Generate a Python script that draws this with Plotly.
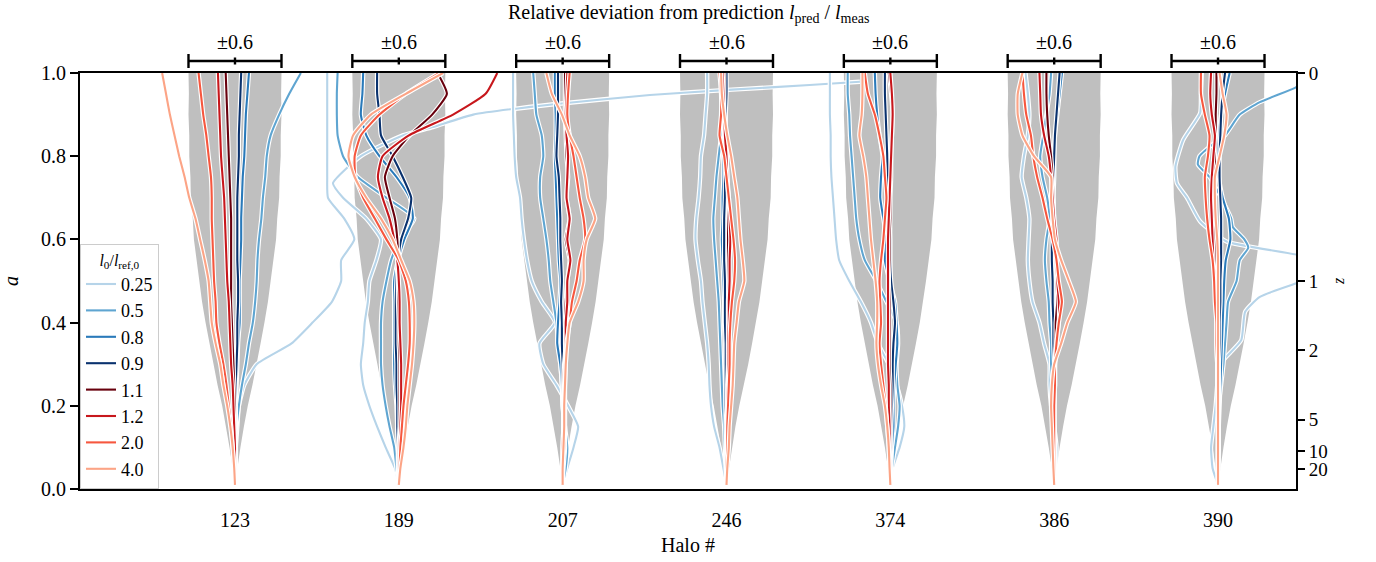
import plotly.graph_objects as go

FONT = "Liberation Serif, Times New Roman, serif"

HALOS = ["123", "189", "207", "246", "374", "386", "390"]
RATIOS = ["0.25", "0.5", "0.8", "0.9", "1.1", "1.2", "2.0", "4.0"]
COLORS = ["#b6d4e9", "#5fa5d1", "#2a7aba", "#0a326e",
          "#68000d", "#c7171c", "#f6573f", "#fca486"]

A_GRID = [0.01, 0.05, 0.10, 0.15, 0.20, 0.25, 0.30, 0.35, 0.40, 0.45, 0.50,
          0.55, 0.60, 0.65, 0.70, 0.75, 0.80, 0.85, 0.90, 0.95, 1.00]

# half width of the grey band (relative deviation) on A_GRID
CONE_HALF = [0.0, 0.03, 0.07, 0.115, 0.165, 0.225, 0.28, 0.33, 0.38, 0.425, 0.46,
             0.495, 0.53, 0.545, 0.57, 0.575, 0.59, 0.59, 0.60, 0.595, 0.60]

DEV_123 = {
    "0.25": [0, 0, 0.01, 0.03, 0.05, 0.12, 0.28, 0.73, 1.0, 1.25, 1.37, 1.37, 1.54, 1.41, 1.2, 1.19, 1.19, 1.19, 1.19, 1.19, 1.19],
    "0.5": [0, 0.01, 0.01, 0.02, 0.05, 0.09, 0.14, 0.18, 0.23, 0.26, 0.28, 0.29, 0.31, 0.34, 0.36, 0.39, 0.41, 0.46, 0.57, 0.70, 0.85],
    "0.8": [0, 0, 0, 0.01, 0.01, 0.02, 0.03, 0.04, 0.06, 0.06, 0.06, 0.07, 0.08, 0.08, 0.09, 0.10, 0.12, 0.13, 0.14, 0.16, 0.18],
    "0.9": [0, 0, 0, 0.01, 0.01, 0.01, 0.02, 0.03, 0.03, 0.04, 0.04, 0.03, 0.03, 0.03, 0.03, 0.04, 0.05, 0.05, 0.06, 0.07, 0.08],
    "1.1": [0, 0, 0, 0, 0, -0.01, -0.02, -0.03, -0.04, -0.05, -0.05, -0.05, -0.05, -0.05, -0.06, -0.07, -0.08, -0.09, -0.10, -0.11, -0.12],
    "1.2": [0, 0, 0, -0.01, -0.02, -0.03, -0.05, -0.06, -0.07, -0.08, -0.10, -0.11, -0.12, -0.13, -0.14, -0.16, -0.18, -0.19, -0.20, -0.21, -0.22],
    "2.0": [0, -0.01, -0.03, -0.05, -0.08, -0.11, -0.15, -0.20, -0.24, -0.25, -0.27, -0.28, -0.29, -0.30, -0.30, -0.31, -0.34, -0.37, -0.41, -0.44, -0.47],
    "4.0": [0, -0.01, -0.03, -0.06, -0.10, -0.15, -0.19, -0.25, -0.30, -0.32, -0.34, -0.39, -0.45, -0.51, -0.59, -0.65, -0.72, -0.78, -0.84, -0.89, -0.94],
}

DEV_189 = {
    "0.25": [0, -0.05, -0.17, -0.28, -0.38, -0.46, -0.49, -0.46, -0.44, -0.40, -0.38, -0.29, -0.23, -0.42, -0.72, -0.85, -0.49, 0.05, 0.44, 0.96, 2.0, 3.24, 4.3, 5.3, 5.95],
    "0.5": [0, -0.03, -0.06, -0.12, -0.17, -0.21, -0.23, -0.23, -0.23, -0.21, -0.16, -0.10, 0.01, 0.20, -0.16, -0.53, -0.72, -0.79, -0.80, -0.80, -0.79],
    "0.8": [0, -0.01, -0.01, -0.02, -0.03, -0.05, -0.06, -0.06, -0.06, -0.06, -0.06, -0.01, 0.07, 0.18, 0.14, -0.03, -0.25, -0.42, -0.49, -0.47, -0.46],
    "0.9": [0, -0.01, -0.01, -0.02, -0.02, -0.03, -0.03, -0.04, -0.04, -0.04, -0.03, -0.01, 0.03, 0.12, 0.16, 0.05, -0.08, -0.23, -0.25, -0.28, -0.28],
    "1.1": [0, 0, 0, 0.01, 0.01, 0.01, 0.01, 0, 0, -0.01, -0.01, -0.01, -0.02, -0.05, -0.12, -0.18, -0.08, 0.14, 0.43, 0.62, 0.50],
    "1.2": [0, 0.01, 0.01, 0.02, 0.03, 0.03, 0.03, 0.02, 0.01, 0.01, 0, -0.02, -0.06, -0.12, -0.21, -0.27, -0.21, 0.13, 0.70, 1.12, 1.27],
    "2.0": [0, 0.01, 0.02, 0.04, 0.06, 0.09, 0.12, 0.14, 0.14, 0.13, 0.09, 0, -0.16, -0.31, -0.46, -0.56, -0.57, -0.49, -0.25, 0.09, 0.52],
    "4.0": [0, 0.02, 0.06, 0.09, 0.11, 0.14, 0.17, 0.19, 0.20, 0.19, 0.14, 0.03, -0.08, -0.23, -0.42, -0.57, -0.65, -0.59, -0.36, 0.09, 0.57],
}

DEV_207 = {
    "0.25": [0, 0.06, 0.14, 0.20, 0.07, -0.08, -0.25, -0.30, -0.10, -0.27, -0.40, -0.46, -0.50, -0.53, -0.55, -0.60, -0.62, -0.63, -0.64, -0.64, -0.64],
    "0.5": [0, 0.04, 0.06, 0.03, 0, -0.01, -0.03, -0.06, -0.08, -0.12, -0.16, -0.18, -0.21, -0.25, -0.29, -0.29, -0.25, -0.27, -0.34, -0.36, -0.38],
    "0.8": [0, 0.01, 0.03, 0.02, 0, -0.01, -0.03, -0.07, -0.06, -0.04, -0.03, -0.05, -0.06, -0.07, -0.08, -0.09, -0.10, -0.09, -0.09, -0.10, -0.10],
    "0.9": [0, 0, 0.01, 0.01, 0.01, 0, 0, -0.01, -0.01, -0.02, -0.01, -0.02, -0.03, -0.03, -0.04, -0.05, -0.08, -0.07, -0.06, -0.06, -0.06],
    "1.1": [0, 0, 0, 0.01, 0.01, 0.01, 0.02, 0.04, 0.03, 0.04, 0.06, 0.09, 0.04, 0.09, 0.05, 0.07, 0.05, 0.04, 0.03, 0.03, 0.03],
    "1.2": [0, 0, 0, 0.01, 0.02, 0.02, 0.03, 0.04, 0.04, 0.06, 0.06, 0.10, 0.06, 0.09, 0.05, 0.06, 0.07, 0.05, 0.04, 0.05, 0.06],
    "2.0": [0, 0, 0.02, 0.03, 0.03, 0.03, 0.04, 0.05, 0.09, 0.12, 0.18, 0.22, 0.29, 0.27, 0.22, 0.18, 0.14, 0.09, 0.06, 0.07, 0.09],
    "4.0": [0, 0, 0.01, 0.02, 0.02, 0.03, 0.04, 0.06, 0.09, 0.20, 0.27, 0.27, 0.31, 0.42, 0.33, 0.29, 0.22, 0.09, -0.01, -0.14, -0.21],
}

DEV_246 = {
    "0.25": [0, -0.04, -0.09, -0.16, -0.20, -0.22, -0.23, -0.25, -0.28, -0.31, -0.33, -0.37, -0.40, -0.39, -0.36, -0.34, -0.33, -0.29, -0.27, -0.25, -0.25],
    "0.5": [0, -0.01, -0.02, -0.03, -0.05, -0.06, -0.07, -0.08, -0.09, -0.10, -0.12, -0.14, -0.16, -0.17, -0.15, -0.13, -0.10, -0.07, -0.05, -0.04, -0.03],
    "0.8": [0, 0, 0, -0.01, -0.01, -0.01, -0.02, -0.02, -0.03, -0.03, -0.04, -0.05, -0.06, -0.05, -0.05, -0.04, -0.04, -0.03, -0.03, -0.02, -0.02],
    "0.9": [0, 0, 0, 0, -0.01, -0.01, -0.01, -0.01, -0.02, -0.02, -0.02, -0.03, -0.03, -0.03, -0.02, -0.02, -0.02, -0.01, -0.01, 0, 0],
    "1.1": [0, 0, 0, 0.01, 0.01, 0.01, 0.02, 0.02, 0.02, 0.02, 0.03, 0.02, 0.02, 0.02, 0.02, 0.01, 0, -0.01, -0.03, -0.03, -0.03],
    "1.2": [0, 0, 0.01, 0.01, 0.01, 0.02, 0.02, 0.02, 0.03, 0.03, 0.04, 0.04, 0.05, 0.04, 0.03, 0.01, 0, -0.02, -0.03, -0.04, -0.05],
    "2.0": [0, 0, 0.01, 0.01, 0.02, 0.03, 0.04, 0.04, 0.05, 0.07, 0.10, 0.11, 0.09, 0.06, 0.03, 0, -0.03, -0.09, -0.07, -0.07, -0.09],
    "4.0": [0, 0.01, 0.03, 0.04, 0.06, 0.08, 0.09, 0.10, 0.13, 0.16, 0.23, 0.21, 0.18, 0.16, 0.14, 0.10, 0.06, 0.01, -0.03, -0.06, -0.07],
}

DEV_374 = {
    "0.25": [0, 0.03, 0.12, 0.18, 0.15, 0.08, -0.02, -0.16, -0.25, -0.38, -0.53, -0.66, -0.70, -0.72, -0.74, -0.76, -0.77, -0.77, -0.78, -0.78, -0.78],
    "0.5": [0, 0.02, 0.06, 0.10, 0.12, 0.09, 0.08, 0.10, 0.08, -0.05, -0.18, -0.33, -0.40, -0.44, -0.46, -0.48, -0.50, -0.52, -0.53, -0.55, -0.55],
    "0.8": [0, 0.01, 0.02, 0.04, 0.04, 0.05, 0.07, 0.09, 0.08, 0.06, -0.01, -0.07, -0.05, -0.09, -0.13, -0.12, -0.10, -0.14, -0.17, -0.19, -0.20],
    "0.9": [0, 0, 0.01, 0.01, 0.02, 0.03, 0.03, 0.04, 0.06, 0.04, 0.01, 0, 0, -0.01, -0.03, -0.03, -0.04, -0.05, -0.06, -0.07, -0.07],
    "1.1": [0, 0, 0, 0, 0, 0, -0.01, -0.01, -0.01, -0.01, -0.02, -0.01, -0.01, 0, 0, 0.01, 0.01, 0.02, 0.03, 0.01, -0.02],
    "1.2": [0, 0, -0.01, -0.01, -0.02, -0.02, -0.03, -0.03, -0.03, -0.03, -0.03, -0.03, -0.03, -0.02, -0.01, 0, 0.01, 0.02, 0.03, 0.02, 0],
    "2.0": [0, -0.01, -0.02, -0.04, -0.06, -0.09, -0.12, -0.14, -0.12, -0.13, -0.14, -0.12, -0.09, -0.07, -0.05, -0.07, -0.09, -0.14, -0.20, -0.29, -0.33],
    "4.0": [0, -0.01, -0.02, -0.04, -0.07, -0.12, -0.16, -0.18, -0.17, -0.17, -0.19, -0.22, -0.25, -0.27, -0.29, -0.31, -0.35, -0.40, -0.37, -0.36, -0.36],
}

DEV_386 = {
    "0.25": [0, 0.02, 0.03, 0, -0.04, -0.06, -0.06, -0.13, -0.19, -0.28, -0.32, -0.34, -0.33, -0.32, -0.36, -0.42, -0.39, -0.34, -0.32, -0.34, -0.37],
    "0.5": [0, 0.01, 0.01, 0, -0.01, -0.02, -0.04, -0.04, -0.06, -0.07, -0.10, -0.12, -0.10, -0.06, -0.09, -0.15, -0.18, -0.14, -0.10, -0.06, -0.04],
    "0.8": [0, 0, 0, 0, 0, 0, 0, 0, 0, -0.01, -0.01, -0.02, -0.02, -0.01, -0.01, 0, 0, 0.01, 0.04, 0.07, 0.10],
    "0.9": [0, 0, 0, 0, 0, 0, 0, -0.01, -0.01, -0.02, -0.02, -0.03, -0.03, -0.02, -0.02, -0.01, 0, 0.01, 0.03, 0.05, 0.07],
    "1.1": [0, 0, 0, 0, 0, 0.01, 0.01, 0.02, 0.02, 0.04, 0.03, 0.02, 0.01, 0, -0.01, -0.02, -0.04, -0.07, -0.09, -0.10, -0.10],
    "1.2": [0, 0, 0, 0, 0, 0.01, 0.01, 0.03, 0.06, 0.06, 0.04, 0.03, 0.03, 0, -0.02, -0.04, -0.07, -0.13, -0.17, -0.18, -0.19],
    "2.0": [0, 0, 0, 0, 0, 0.01, 0.01, 0.03, 0.06, 0.10, 0.06, 0.03, -0.02, -0.09, -0.15, -0.22, -0.27, -0.30, -0.36, -0.39, -0.41],
    "4.0": [0, -0.01, -0.02, -0.03, -0.04, -0.03, 0, 0.09, 0.17, 0.28, 0.19, 0.09, 0.01, -0.02, -0.04, -0.04, -0.26, -0.41, -0.47, -0.47, -0.41],
}

DEV_390 = {
    "0.25": [0, -0.07, -0.09, -0.06, -0.03, -0.01, 0, 0.07, 0.30, 0.35, 0.54, 1.02, 1.60, 1.02, 0.11, -0.23, -0.40, -0.53, -0.55, -0.45, -0.23, -0.22, -0.21],
    "0.5": [0, 0.01, 0.01, 0.04, 0.07, 0.09, 0.11, 0.13, 0.24, 0.28, 0.39, 0.34, 0.19, 0.17, 0.04, -0.11, -0.26, -0.24, -0.06, 0.09, 0.28, 0.54, 1.0, 1.3],
    "0.8": [0, 0, 0.01, 0.01, 0.02, 0.03, 0.04, 0.05, 0.06, 0.07, 0.08, 0.10, 0.16, 0.14, 0.06, 0.01, -0.01, 0.01, 0.04, 0.09, 0.15],
    "0.9": [0, 0, 0, 0.01, 0.01, 0.01, 0.01, 0.02, 0.02, 0.03, 0.03, 0.04, 0.04, 0.04, 0.03, 0.02, 0.02, 0.03, 0.04, 0.06, 0.09],
    "1.1": [0, 0, 0, 0, 0, 0, 0, -0.01, -0.01, -0.02, -0.03, -0.03, -0.04, -0.05, -0.05, -0.04, -0.04, -0.03, -0.03, -0.02, -0.02],
    "1.2": [0, 0, 0, 0, 0, 0, -0.01, -0.02, -0.02, -0.03, -0.04, -0.06, -0.07, -0.08, -0.09, -0.08, -0.06, -0.04, -0.08, -0.10, -0.09],
    "2.0": [0, 0, 0, 0, 0, -0.01, -0.01, -0.02, -0.02, -0.04, -0.05, -0.07, -0.11, -0.14, -0.16, -0.17, -0.13, -0.11, -0.17, -0.22, -0.22],
    "4.0": [0, 0, 0, 0, 0, 0, 0, 0, 0, 0, 0, 0, -0.01, -0.03, -0.04, -0.04, 0.02, 0.08, 0.11, 0.06, 0.02],
}

# lines sampled on their own scale-factor grid
CUSTOM_A = {
    ("189", "0.25"): [0.01, 0.05, 0.10, 0.15, 0.20, 0.25, 0.30, 0.35, 0.40, 0.45, 0.50, 0.55, 0.60,
                      0.65, 0.70, 0.735, 0.80, 0.85, 0.87, 0.90, 0.925, 0.947, 0.96, 0.971, 0.979],
    ("390", "0.25"): [0.01, 0.05, 0.10, 0.15, 0.20, 0.25, 0.28, 0.31, 0.358, 0.426, 0.462, 0.495,
                      0.53, 0.563, 0.595, 0.643, 0.70, 0.735, 0.775, 0.839, 0.904, 0.95, 1.0],
    ("390", "0.5"): [0.01, 0.10, 0.20, 0.25, 0.30, 0.35, 0.40, 0.45, 0.50, 0.55, 0.58, 0.60, 0.63,
                     0.65, 0.70, 0.75, 0.78, 0.80, 0.83, 0.85, 0.90, 0.93, 0.965, 1.0],
}

DEVS = {"123": DEV_123, "189": DEV_189, "207": DEV_207, "246": DEV_246,
        "374": DEV_374, "386": DEV_386, "390": DEV_390}

Z_TICKS = [0, 1, 2, 5, 10, 20]
BAR_DEV = 0.6
SCALE = 0.473          # x-axis units per unit of relative deviation
X_RANGE = [-0.946, 6.476]

fig = go.Figure()

# grey bands
for i, h in enumerate(HALOS):
    xs = [i + w * SCALE for w in CONE_HALF] + [i - w * SCALE for w in CONE_HALF[::-1]]
    ys = A_GRID + A_GRID[::-1]
    fig.add_trace(go.Scatter(x=xs, y=ys, mode="lines", fill="toself",
                             fillcolor="#bfbfbf", line=dict(width=0, color="#bfbfbf"),
                             hoverinfo="skip", showlegend=False))

# deviation tracks
for i, h in enumerate(HALOS):
    for r, c in zip(RATIOS, COLORS):
        a = CUSTOM_A.get((h, r), A_GRID)
        d = DEVS[h][r]
        xs = [i + v * SCALE for v in d]
        fig.add_trace(go.Scatter(x=xs, y=a, mode="lines",
                                 line=dict(color="white", width=4.4, shape="spline", smoothing=0.5),
                                 hoverinfo="skip", showlegend=False))
        fig.add_trace(go.Scatter(x=xs, y=a, mode="lines", name=r, legendgroup=r,
                                 line=dict(color=c, width=2.1, shape="spline", smoothing=0.5),
                                 hoverinfo="skip", showlegend=(i == 0)))

# dummy trace for the right (z) axis
fig.add_trace(go.Scatter(x=[None], y=[None], yaxis="y2", showlegend=False, hoverinfo="skip"))

# scale bars on top
PH = 416.0
shapes = []
annotations = []
y_bar = 12 / PH + 1
for i, h in enumerate(HALOS):
    x0, x1 = i - BAR_DEV * SCALE, i + BAR_DEV * SCALE
    ln = dict(color="black", width=2.4)
    shapes.append(dict(type="line", xref="x", yref="paper", x0=x0, x1=x1, y0=y_bar, y1=y_bar, line=ln))
    for xx in (x0, x1):
        shapes.append(dict(type="line", xref="x", yref="paper", x0=xx, x1=xx,
                           y0=y_bar - 7 / PH, y1=y_bar + 7 / PH, line=ln))
    shapes.append(dict(type="line", xref="x", yref="paper", x0=i, x1=i,
                       y0=y_bar - 3.5 / PH, y1=y_bar + 3.5 / PH, line=ln))
    annotations.append(dict(x=i, y=1 + 31 / PH, xref="x", yref="paper", yanchor="middle",
                            xanchor="center", text="\u00b1" + "0.6", showarrow=False,
                            font=dict(size=20, family=FONT, color="black")))

annotations.append(dict(x=0.5, y=1 + 60 / PH, xref="paper", yref="paper", showarrow=False,
                        yanchor="middle", xanchor="center",
                        text="Relative deviation from prediction <i>l</i><sub>pred</sub> / <i>l</i><sub>meas</sub>",
                        font=dict(size=20, family=FONT, color="black")))

fig.update_layout(
    width=1376, height=562,
    margin=dict(l=80, r=80, t=73, b=73, autoexpand=False),
    paper_bgcolor="white", plot_bgcolor="white",
    font=dict(family=FONT, size=20, color="black"),
    shapes=shapes, annotations=annotations,
    hovermode=False,
    xaxis=dict(range=X_RANGE, tickvals=list(range(len(HALOS))), ticktext=HALOS,
               showgrid=False, zeroline=False, showline=True, linecolor="black", linewidth=2,
               mirror=True, ticks="outside", ticklen=12, tickcolor="rgba(0,0,0,0)",
               automargin=False,
               title=dict(text="Halo #", standoff=8, font=dict(size=20, family=FONT)),
               tickfont=dict(size=20, family=FONT)),
    yaxis=dict(range=[0, 1], tickvals=[0, 0.2, 0.4, 0.6, 0.8, 1.0], tickformat=".1f",
               showgrid=False, zeroline=False, showline=True, linecolor="black", linewidth=2,
               mirror=True, ticks="outside", ticklen=8, tickwidth=1.5, tickcolor="black",
               automargin=False,
               title=dict(text="<i>a</i>", standoff=22, font=dict(size=20, family=FONT)),
               tickfont=dict(size=20, family=FONT)),
    yaxis2=dict(range=[0, 1], overlaying="y", side="right",
                tickvals=[1 / (1 + z) for z in Z_TICKS], ticktext=[str(z) for z in Z_TICKS],
                showgrid=False, zeroline=False, showline=False, automargin=False,
                ticks="outside", ticklen=8, tickwidth=1.5, tickcolor="black",
                title=dict(text="<i>z</i>", standoff=6, font=dict(size=16, family=FONT)),
                tickfont=dict(size=19, family=FONT)),
    legend=dict(x=0, y=0, xanchor="left", yanchor="bottom", bgcolor="white",
                bordercolor="#cccccc", borderwidth=1, tracegroupgap=0,
                font=dict(size=18, family=FONT),
                title=dict(text="<i>l</i><sub>0</sub>/<i>l</i><sub>ref,0</sub>", side="top center",
                           font=dict(size=16, family=FONT))),
)

# remove the browser's default 8 px page margin so the figure sits at the window origin
fig.write_html("out.html", config={"displayModeBar": False},
               post_script="document.body.style.margin='0px';")
